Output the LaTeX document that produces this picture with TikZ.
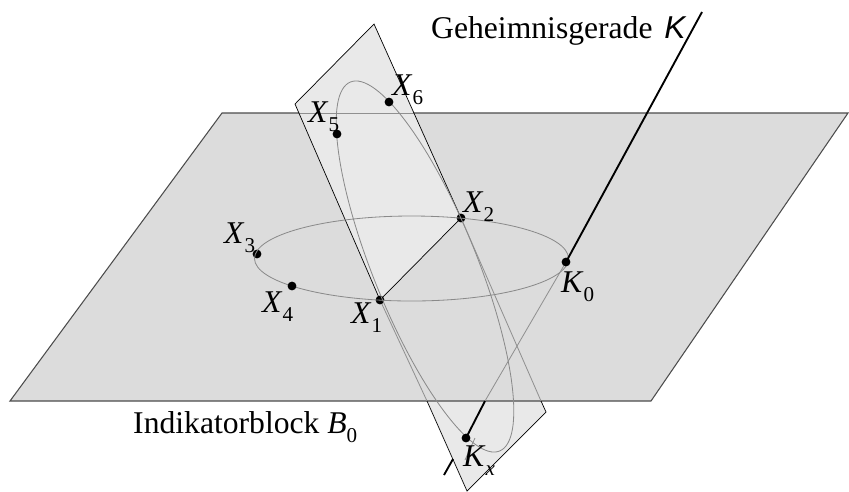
\documentclass[tikz,border=0pt]{standalone}
\usepackage{fontspec}
\setmainfont{Liberation Serif}
\newfontfamily\keyfont{Liberation Sans}
\usepackage{xcolor}
\definecolor{planeA}{HTML}{DCDCDC}
\definecolor{planeB}{HTML}{E9E9E9}
\definecolor{curve}{HTML}{8A8A8A}
\definecolor{hidden}{HTML}{909090}
\newcommand{\idx}[1]{\raisebox{-0.27cm}{\fontsize{18}{18}\selectfont #1}}
\begin{document}
\begin{tikzpicture}[
    x=0.03cm, y=-0.03cm,
    punkt/.style={circle, fill=black, inner sep=0pt, minimum size=0.265cm},
    marke/.style={inner sep=0pt, anchor=base west, font=\fontsize{27}{27}\selectfont},
    kante/.style={draw=black, line width=0.6pt},
    rand/.style={draw=black!70, line width=0.9pt},
    verdeckt/.style={draw=hidden, line width=0.7pt},
    bahn/.style={draw=curve, line width=0.7pt},
    gerade/.style={draw=black, line width=1.6pt}
]
    \useasboundingbox (0,0) rectangle (849,491);

    % ── Ecken der Ebenen ──
    \coordinate (HA) at (222,113);
    \coordinate (HB) at (848,113);
    \coordinate (HC) at (651,401);
    \coordinate (HD) at (10,401);
    \coordinate (VA) at (295,104);
    \coordinate (VB) at (374,24);
    \coordinate (VC) at (546,412);
    \coordinate (VD) at (467,491);
    \coordinate (HtL) at (299,113);
    \coordinate (HtR) at (413,113);
    \coordinate (HuL) at (427,401);
    \coordinate (HuR) at (541,401);
    \coordinate (X1) at (380,300);
    \coordinate (X2) at (461,218);
    \coordinate (K0) at (566,262);
    \coordinate (Kx) at (466,438);
    \coordinate (Koben) at (702,12);
    \coordinate (Kunten) at (444,475);
    \coordinate (Ku) at (485,401);
    \coordinate (Ka) at (453,459);
    \coordinate (Kb) at (475,438);
    \coordinate (Kc) at (465,460);

    % ── Ebenen ──
    \fill[planeB] (VA) -- (VB) -- (VC) -- (VD) -- cycle;
    \fill[planeA] (HA) -- (HB) -- (HC) -- (HD) -- cycle;
    \fill[planeB] (VA) -- (VB) -- (X2) -- (X1) -- cycle;
    \draw[rand] (HtR) -- (HB) -- (HC) -- (HD) -- (HA) -- (HtL);
    \draw[verdeckt] (HtL) -- (HtR);
    \draw[kante] (X1) -- (VA) -- (VB) -- (X2);
    \draw[kante] (X1) -- (X2);
    \draw[verdeckt] (X1) -- (HuL);
    \draw[verdeckt] (X2) -- (HuR);
    \draw[kante] (HuL) -- (VD) -- (VC) -- (HuR);

    % ── Punkte unter den Ellipsen ──
    \node[punkt] (P1) at (X1) {};
    \node[punkt] (P2) at (X2) {};
    \node[punkt] (P3) at (257,254) {};

    % ── Ellipsen ──
    \draw[bahn] (411.5,258.5) circle [x radius=4.71cm, y radius=1.275cm];
    \draw[bahn] (425,266.5) circle [x radius=5.97cm, y radius=1.56cm, rotate=-68];

    % ── Geheimnisgerade ──
    \draw[gerade] (K0) -- (Koben);
    \draw[verdeckt] (K0) -- (Ku);
    \draw[gerade] (Ku) -- (Kx);
    \draw[verdeckt] (Kb) -- (Kc);
    \draw[gerade] (Ka) -- (Kunten);

    % ── Punkte ──
    \node[punkt] (P4) at (292,286) {};
    \node[punkt] (P5) at (337,134) {};
    \node[punkt] (P6) at (389,102) {};
    \node[punkt] (PK0) at (K0) {};
    \node[punkt] (PKx) at (Kx) {};

    % ── Beschriftung ──
    \node[marke] (LX1) at (351,323) {\textit{X}\idx{1}};
    \node[marke] (LX2) at (463,212) {\textit{X}\idx{2}};
    \node[marke] (LX3) at (224,243) {\textit{X}\idx{3}};
    \node[marke] (LX4) at (262,312.5) {\textit{X}\idx{4}};
    \node[marke] (LX5) at (308,122.5) {\textit{X}\idx{5}};
    \node[marke] (LX6) at (392,95) {\textit{X}\idx{6}};
    \node[marke] (LK0) at (561,292) {\textit{K}\idx{0}};
    \node[marke] (LKx) at (463,466) {\textit{K}\idx{\textit{x}}};
    \node[marke] (LK) at (431,38) {Geheimnisgerade\hspace{0.12em} {\keyfont\itshape K}};
    \node[marke] (LB) at (133,433) {Indikatorblock \textit{B}\idx{0}};
\end{tikzpicture}
\end{document}
